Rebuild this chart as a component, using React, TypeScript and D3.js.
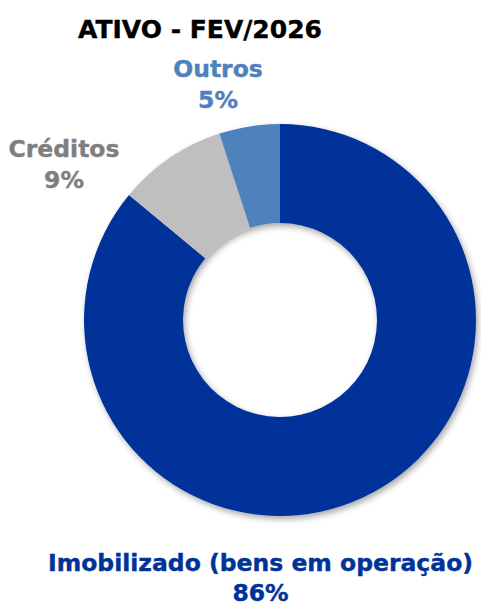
import React from "react";
import * as d3 from "d3";

const categories = ["Imobilizado (bens em operação)", "Créditos", "Outros"];
const values = [86, 9, 5];
const colors = ["#003399", "#BFBFBF", "#4F81BD"];
const labelColors = ["#003399", "#7F7F7F", "#4F81BD"];
const title = "ATIVO - FEV/2026";

const W = 481;
const H = 606;
const cx = 280;
const cy = 320;
const outerR = 196;
const innerR = 97;
const font = "'DejaVu Sans', Verdana, sans-serif";

export default function App() {
  const pie = d3.pie<number>().sort(null).value((d) => d);
  const arcs = pie(values);
  const arc = d3.arc<d3.PieArcDatum<number>>().innerRadius(innerR).outerRadius(outerR);

  // label anchor positions (relative to chart centre), one per slice
  const labelPos = [
    { x: -19.5, y: 251, gap: 30 },
    { x: -216, y: -163, gap: 31 },
    { x: -62, y: -243, gap: 31 },
  ];
  const total = d3.sum(values);

  return (
    <svg
      width={W}
      height={H}
      style={{ position: "absolute", left: 0, top: 0, display: "block", background: "#fff" }}
      fontFamily={font}
    >
      <defs>
        <filter id="sh" x="-20%" y="-20%" width="140%" height="140%">
          <feDropShadow dx="2" dy="3" stdDeviation="3" floodColor="#000" floodOpacity="0.35" />
        </filter>
      </defs>
      <text x={200} y={38} textAnchor="middle" fontSize={25} fontWeight="bold" fill="#000" stroke="#000" strokeWidth={0.4}>
        {title}
      </text>
      <g transform={`translate(${cx},${cy})`} filter="url(#sh)">
        {arcs.map((a, i) => (
          <path key={i} d={arc(a) || ""} fill={colors[i]} />
        ))}
      </g>
      <g transform={`translate(${cx},${cy})`}>
        {arcs.map((a, i) => (
          <text
            key={i}
            x={labelPos[i].x}
            y={labelPos[i].y}
            textAnchor="middle"
            fontSize={23.5}
            fontWeight="bold"
            fill={labelColors[i]}
            stroke={labelColors[i]}
            strokeWidth={0.4}
          >
            <tspan x={labelPos[i].x}>{categories[i]}</tspan>
            <tspan x={labelPos[i].x} dy={labelPos[i].gap}>
              {`${Math.round((values[i] / total) * 100)}%`}
            </tspan>
          </text>
        ))}
      </g>
    </svg>
  );
}
